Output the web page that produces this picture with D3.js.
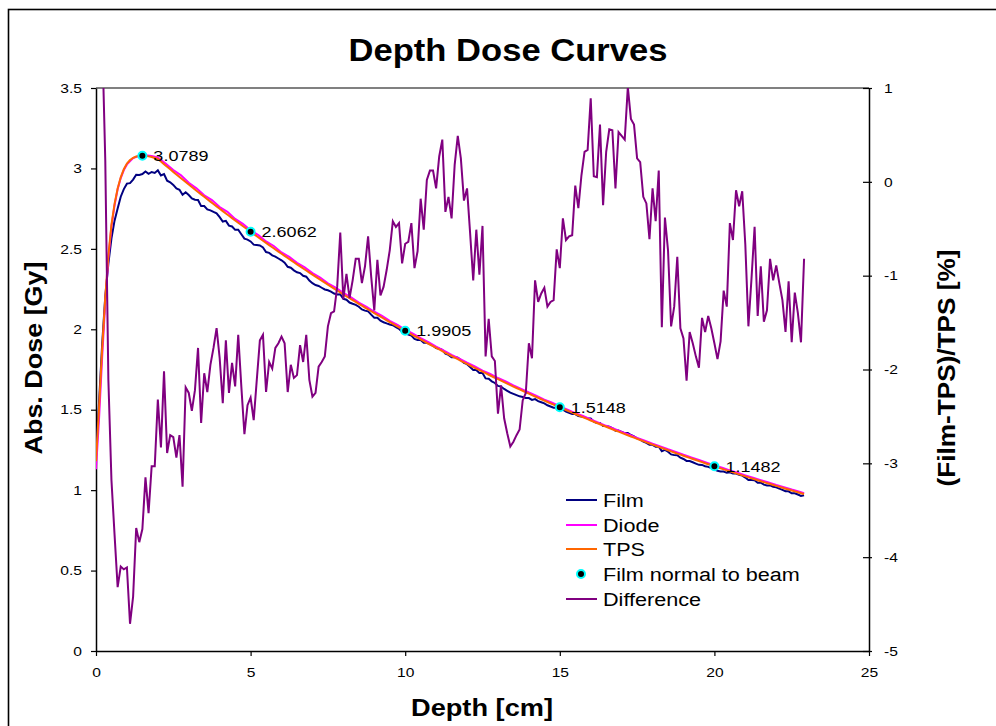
<!DOCTYPE html>
<html>
<head>
<meta charset="utf-8">
<script src="https://cdn.jsdelivr.net/npm/d3@7"></script>
<style>
  html, body { margin: 0; padding: 0; background: #fff; }
  svg { display: block; font-family: Arial, "Liberation Sans", sans-serif; }
</style>
</head>
<body>
<svg id="chart" width="996" height="726"></svg>
<script>
// Sampling depths (cm) shared by the TPS and film profiles
const depth = [
  0.0,0.1,0.2,0.3,0.4,0.5,0.6,0.7,0.8,0.9,
  1.0,1.1,1.2,1.3,1.4,1.5,1.6,1.7,1.8,1.9,
  2.0,2.1,2.2,2.3,2.4,2.5,2.6,2.7,2.8,2.9,
  3.0,3.1,3.2,3.3,3.4,3.5,3.6,3.7,3.8,3.9,
  4.0,4.1,4.2,4.3,4.4,4.5,4.6,4.7,4.8,4.9,
  5.0,5.1,5.2,5.3,5.4,5.5,5.6,5.7,5.8,5.9,
  6.0,6.1,6.2,6.3,6.4,6.5,6.6,6.7,6.8,6.9,
  7.0,7.1,7.2,7.3,7.4,7.5,7.6,7.7,7.8,7.9,
  8.0,8.1,8.2,8.3,8.4,8.5,8.6,8.7,8.8,8.9,
  9.0,9.1,9.2,9.3,9.4,9.5,9.6,9.7,9.8,9.9,
  10.0,10.1,10.2,10.3,10.4,10.5,10.6,10.7,10.8,10.9,
  11.0,11.1,11.2,11.3,11.4,11.5,11.6,11.7,11.8,11.9,
  12.0,12.1,12.2,12.3,12.4,12.5,12.6,12.7,12.8,12.9,
  13.0,13.1,13.2,13.3,13.4,13.5,13.6,13.7,13.8,13.9,
  14.0,14.1,14.2,14.3,14.4,14.5,14.6,14.7,14.8,14.9,
  15.0,15.1,15.2,15.3,15.4,15.5,15.6,15.7,15.8,15.9,
  16.0,16.1,16.2,16.3,16.4,16.5,16.6,16.7,16.8,16.9,
  17.0,17.1,17.2,17.3,17.4,17.5,17.6,17.7,17.8,17.9,
  18.0,18.1,18.2,18.3,18.4,18.5,18.6,18.7,18.8,18.9,
  19.0,19.1,19.2,19.3,19.4,19.5,19.6,19.7,19.8,19.9,
  20.0,20.1,20.2,20.3,20.4,20.5,20.6,20.7,20.8,20.9,
  21.0,21.1,21.2,21.3,21.4,21.5,21.6,21.7,21.8,21.9,
  22.0,22.1,22.2,22.3,22.4,22.5,22.6,22.7,22.8,22.9
];

// Planned dose from the treatment planning system (Gy)
const tpsDose = [
  1.18,1.52,1.88,2.20,2.46,2.65,2.78,2.875,2.945,2.995,
  3.030,3.052,3.066,3.074,3.078,3.0789,3.078,3.075,3.071,3.065,
  3.059,3.0427,3.0265,3.0104,2.9944,2.9784,2.9626,2.9468,2.9311,2.9155,
  2.8999,2.8845,2.8691,2.8539,2.8387,2.8235,2.8085,2.7936,2.7787,2.7639,
  2.7492,2.7345,2.7200,2.7055,2.6911,2.6767,2.6625,2.6483,2.6342,2.6202,
  2.6062,2.5922,2.5783,2.5644,2.5506,2.5369,2.5233,2.5097,2.4962,2.4828,
  2.4695,2.4562,2.4430,2.4299,2.4168,2.4038,2.3909,2.3781,2.3653,2.3526,
  2.3399,2.3273,2.3148,2.3024,2.2900,2.2777,2.2655,2.2533,2.2412,2.2291,
  2.2171,2.2052,2.1934,2.1816,2.1699,2.1582,2.1466,2.1351,2.1236,2.1122,
  2.1008,2.0895,2.0783,2.0671,2.0560,2.0450,2.0340,2.0231,2.0122,2.0014,
  1.9905,1.9797,1.9689,1.9582,1.9475,1.9369,1.9263,1.9158,1.9054,1.8950,
  1.8847,1.8744,1.8642,1.8540,1.8439,1.8339,1.8239,1.8140,1.8041,1.7943,
  1.7845,1.7748,1.7651,1.7555,1.7459,1.7364,1.7269,1.7175,1.7081,1.6988,
  1.6896,1.6804,1.6712,1.6621,1.6531,1.6441,1.6351,1.6262,1.6173,1.6085,
  1.5997,1.5910,1.5823,1.5737,1.5651,1.5566,1.5481,1.5397,1.5313,1.5230,
  1.5148,1.5064,1.4981,1.4898,1.4816,1.4734,1.4653,1.4572,1.4491,1.4411,
  1.4331,1.4252,1.4173,1.4095,1.4017,1.3940,1.3863,1.3786,1.3710,1.3634,
  1.3559,1.3484,1.3410,1.3336,1.3262,1.3189,1.3116,1.3044,1.2972,1.2900,
  1.2829,1.2758,1.2688,1.2618,1.2548,1.2479,1.2410,1.2341,1.2273,1.2205,
  1.2138,1.2071,1.2004,1.1938,1.1872,1.1806,1.1741,1.1676,1.1612,1.1548,
  1.1482,1.1418,1.1354,1.1290,1.1227,1.1164,1.1102,1.1040,1.0978,1.0916,
  1.0855,1.0794,1.0734,1.0674,1.0614,1.0555,1.0496,1.0437,1.0379,1.0321,
  1.0263,1.0205,1.0148,1.0091,1.0035,0.9979,0.9923,0.9867,0.9812,0.9757
];

// Film relative to TPS, (Film-TPS)/TPS in percent, same depths
const filmDiffPct = [
  2.5,2.0,1.55,0.23,-2.11,-3.18,-3.76,-4.32,-4.10,-4.13,
  -4.11,-4.71,-4.42,-3.69,-3.84,-3.70,-3.15,-3.53,-3.03,-3.03,
  -2.32,-2.83,-2.02,-2.89,-2.70,-2.72,-2.94,-2.70,-3.25,-2.19,
  -2.25,-2.44,-2.22,-1.77,-2.57,-2.04,-2.24,-1.95,-1.77,-1.56,
  -1.88,-2.36,-1.69,-2.25,-1.93,-2.18,-1.63,-2.18,-2.69,-2.38,
  -2.30,-2.54,-2.11,-1.69,-1.63,-2.24,-1.92,-1.99,-1.77,-1.72,
  -1.65,-1.72,-2.24,-1.95,-2.09,-2.06,-1.74,-1.92,-1.63,-2.11,
  -2.29,-2.25,-1.97,-1.92,-1.86,-1.54,-1.40,-1.38,-1.12,-0.54,
  -1.25,-0.98,-1.24,-1.05,-0.82,-0.82,-1.08,-0.90,-0.58,-1.01,
  -1.37,-0.83,-1.21,-1.12,-0.94,-0.73,-0.42,-0.48,-0.44,-0.87,
  -0.66,-0.64,-0.44,-0.92,-0.74,-0.18,-0.51,0.02,0.12,0.12,
  -0.07,0.27,0.45,-0.32,-0.16,-0.39,0.18,0.49,0.25,-0.20,
  -0.07,-0.55,-1.05,-0.51,-0.99,-0.47,-1.86,-1.46,-1.86,-1.91,
  -2.47,-2.17,-2.52,-2.68,-2.82,-2.77,-2.70,-2.64,-2.33,-2.25,
  -1.72,-1.88,-1.05,-1.28,-1.19,-1.13,-1.33,-1.28,-1.26,-0.72,
  -0.92,-0.39,-0.62,-0.58,-0.57,-0.04,-0.28,0.07,0.32,0.34,
  0.89,0.06,0.05,0.61,-0.25,0.32,0.56,0.55,-0.07,0.53,
  0.49,0.45,1.01,0.67,0.61,0.25,0.21,-0.16,-0.23,-0.61,
  -0.07,-0.42,0.12,-1.55,-0.38,-0.73,-1.54,-1.33,-0.80,-1.56,
  -1.67,-2.12,-1.60,-1.72,-1.86,-1.98,-1.45,-1.60,-1.43,-1.56,
  -1.72,-1.89,-1.70,-1.16,-1.33,-0.44,-0.62,-0.09,-0.26,-0.10,
  -0.67,-1.54,-1.03,-0.48,-1.43,-0.90,-1.49,-1.37,-0.82,-1.05,
  -0.89,-1.08,-1.26,-1.60,-1.06,-1.71,-1.18,-1.40,-1.71,-0.82
];

// Diode scan (cm, Gy)
const diodeDepth = [
  0.0,0.1,0.2,0.3,0.4,0.5,0.6,0.7,0.8,0.9,1.0,1.2,1.4,1.6,1.8,
  2.0,2.25,2.5,2.75,3.0,3.25,3.5,3.75,4.0,4.25,4.5,4.75,5.0,5.25,5.5,5.75,
  6.0,6.25,6.5,6.75,7.0,7.25,7.5,7.75,8.0,8.25,8.5,8.75,9.0,9.25,9.5,9.75,
  10.0,10.25,10.5,10.75,11.0,11.25,11.5,11.75,12.0,12.25,12.5,12.75,13.0,13.25,13.5,13.75,
  14.0,14.25,14.5,14.75,15.0,15.25,15.5,15.75,16.0,16.25,16.5,16.75,17.0,17.25,17.5,17.75,
  18.0,18.25,18.5,18.75,19.0,19.25,19.5,19.75,20.0,20.25,20.5,20.75,21.0,21.25,21.5,21.75,
  22.0,22.25,22.5,22.75,22.9
];
const diodeDose = [
  1.13,1.45,1.83,2.17,2.44,2.64,2.77,2.87,2.94,2.99,3.025,3.064,3.079,3.082,3.077,
  3.068,3.030,2.990,2.957,2.911,2.876,2.833,2.803,2.760,2.730,2.686,2.655,2.616,2.585,2.546,2.518,
  2.478,2.450,2.413,2.385,2.349,2.322,2.286,2.259,2.226,2.198,2.166,2.140,2.109,2.083,2.052,2.028,
  1.997,1.973,1.945,1.920,1.892,1.868,1.841,1.818,1.792,1.770,1.743,1.722,1.697,1.676,1.651,1.630,
  1.607,1.586,1.563,1.544,1.521,1.501,1.479,1.461,1.439,1.420,1.400,1.382,1.362,1.344,1.325,1.308,
  1.289,1.272,1.254,1.238,1.220,1.204,1.187,1.171,1.154,1.139,1.122,1.108,1.092,1.077,1.062,1.048,
  1.032,1.019,1.004,0.991,0.981
];

// Point measurements with the film normal to the beam
const pointDepth = [1.5, 5, 10, 15, 20];
const pointDose = [3.0789, 2.6062, 1.9905, 1.5148, 1.1482];

// Axis ticks
const depthTicks = [0, 5, 10, 15, 20, 25];
const doseTicks = [0, 0.5, 1, 1.5, 2, 2.5, 3, 3.5];
const diffTicks = [-5, -4, -3, -2, -1, 0, 1];

const seriesNames = ["Film", "Diode", "TPS", "Film normal to beam", "Difference"];
const colors = { film: "#000080", diode: "#FF00FF", tps: "#FF6600", point: "#00FFFF", diff: "#800080" };

// Film dose follows from the planned dose and the relative difference
const filmDose = tpsDose.map((t, i) => t * (1 + filmDiffPct[i] / 100));

const svg = d3.select("#chart");
const pLeft = 96, pRight = 869, pTop = 88, pBottom = 651;
const WIDE = 1.2; // horizontal widening applied to the chart lettering

const x = d3.scaleLinear().domain([0, 25]).range([pLeft, pRight]);
const yDose = d3.scaleLinear().domain([0, 3.5]).range([pBottom, pTop]);
const yDiff = d3.scaleLinear().domain([-5, 1]).range([pBottom, pTop]);

// Widen horizontal text glyphs by a constant factor
function widen(sel, k) {
  sel.each(function () {
    const w = this.getComputedTextLength();
    d3.select(this).attr("textLength", w * k).attr("lengthAdjust", "spacingAndGlyphs");
  });
}

// Chart frame
svg.append("rect")
  .attr("x", 8.5).attr("y", 9.5).attr("width", 1000).attr("height", 730)
  .attr("fill", "none").attr("stroke", "#000").attr("stroke-width", 1.6);

svg.append("defs").append("clipPath").attr("id", "plotClip")
  .append("rect").attr("x", pLeft).attr("y", pTop).attr("width", pRight - pLeft).attr("height", pBottom - pTop);

// Plot-area top edge
svg.append("line")
  .attr("x1", pLeft).attr("x2", pRight).attr("y1", pTop).attr("y2", pTop)
  .attr("stroke", "#808080").attr("stroke-width", 2);

// Title
svg.append("text")
  .attr("x", 508).attr("y", 61)
  .attr("text-anchor", "middle")
  .attr("font-size", 31).attr("font-weight", "bold")
  .attr("textLength", 319).attr("lengthAdjust", "spacingAndGlyphs")
  .text("Depth Dose Curves");

// Axes
const tickFont = 13;
const axLeft = svg.append("g").attr("transform", `translate(${pLeft},0)`)
  .call(d3.axisLeft(yDose).tickValues(doseTicks).tickSize(5).tickSizeOuter(0).tickPadding(9).tickFormat(d => String(d)));
const axBottom = svg.append("g").attr("transform", `translate(0,${pBottom})`)
  .call(d3.axisBottom(x).tickValues(depthTicks).tickSize(5).tickSizeOuter(0).tickPadding(12).tickFormat(d => String(d)));
const axRight = svg.append("g").attr("transform", `translate(${pRight},0)`)
  .call(d3.axisRight(yDiff).tickValues(diffTicks).tickSize(3).tickSizeOuter(0).tickPadding(12).tickFormat(d => String(d)));
axRight.selectAll(".tick line").attr("x1", -6);

[axLeft, axBottom, axRight].forEach(g => {
  g.select(".domain").attr("stroke", "#000").attr("stroke-width", 1.5);
  g.selectAll(".tick line").attr("stroke", "#000").attr("stroke-width", 1.2);
  g.selectAll(".tick text").attr("font-size", tickFont).attr("fill", "#000")
    .attr("font-family", "Arial, 'Liberation Sans', sans-serif");
  widen(g.selectAll(".tick text"), WIDE);
});

// Axis titles
svg.append("text")
  .attr("x", 482).attr("y", 716).attr("text-anchor", "middle")
  .attr("font-size", 23).attr("font-weight", "bold")
  .attr("textLength", 142).attr("lengthAdjust", "spacingAndGlyphs")
  .text("Depth [cm]");
svg.append("text")
  .attr("transform", "translate(42,358) rotate(-90)").attr("text-anchor", "middle")
  .attr("font-size", 24).attr("font-weight", "bold")
  .attr("textLength", 193).attr("lengthAdjust", "spacingAndGlyphs")
  .text("Abs. Dose [Gy]");
svg.append("text")
  .attr("transform", "translate(955,368) rotate(-90)").attr("text-anchor", "middle")
  .attr("font-size", 24).attr("font-weight", "bold")
  .attr("textLength", 237).attr("lengthAdjust", "spacingAndGlyphs")
  .text("(Film-TPS)/TPS [%]");

// Curves
const plot = svg.append("g").attr("clip-path", "url(#plotClip)");
const doseLine = d3.line().x(d => x(d[0])).y(d => yDose(d[1]));
const diffLine = d3.line().x(d => x(d[0])).y(d => yDiff(d[1]));

plot.append("path").datum(depth.map((d, i) => [d, filmDose[i]]))
  .attr("d", doseLine).attr("fill", "none").attr("stroke", colors.film).attr("stroke-width", 2);
plot.append("path").datum(diodeDepth.map((d, i) => [d, diodeDose[i]]))
  .attr("d", doseLine).attr("fill", "none").attr("stroke", colors.diode).attr("stroke-width", 2);
plot.append("path").datum(depth.map((d, i) => [d, tpsDose[i]]))
  .attr("d", doseLine).attr("fill", "none").attr("stroke", colors.tps).attr("stroke-width", 2);

// Point measurements and their labels
const pts = pointDepth.map((d, i) => ({ d, v: pointDose[i] }));
svg.selectAll("circle.pt").data(pts).join("circle").attr("class", "pt")
  .attr("cx", p => x(p.d)).attr("cy", p => yDose(p.v)).attr("r", 4)
  .attr("fill", "#000").attr("stroke", colors.point).attr("stroke-width", 2);
const ptLabels = svg.selectAll("text.ptlab").data(pts).join("text").attr("class", "ptlab")
  .attr("x", p => x(p.d) + 11).attr("y", p => yDose(p.v) + 5.5)
  .attr("font-size", 15).attr("fill", "#000")
  .text(p => p.v.toFixed(4));
widen(ptLabels, WIDE);

plot.append("path").datum(depth.map((d, i) => [d, filmDiffPct[i]]))
  .attr("d", diffLine).attr("fill", "none").attr("stroke", colors.diff).attr("stroke-width", 2);

// Legend
const legendY = [500, 525, 549, 574, 599];
const legendKind = ["film", "diode", "tps", "point", "diff"];
const lg = svg.append("g");
seriesNames.forEach((name, i) => {
  const y = legendY[i];
  if (legendKind[i] === "point") {
    lg.append("circle").attr("cx", 581).attr("cy", y).attr("r", 4)
      .attr("fill", "#000").attr("stroke", colors.point).attr("stroke-width", 2);
  } else {
    lg.append("line").attr("x1", 566).attr("x2", 597).attr("y1", y).attr("y2", y)
      .attr("stroke", colors[legendKind[i]]).attr("stroke-width", 2);
  }
  lg.append("text").attr("x", 603).attr("y", y + 6.5)
    .attr("font-size", 18).attr("fill", "#000").text(name);
});
widen(lg.selectAll("text"), WIDE);
</script>
</body>
</html>
